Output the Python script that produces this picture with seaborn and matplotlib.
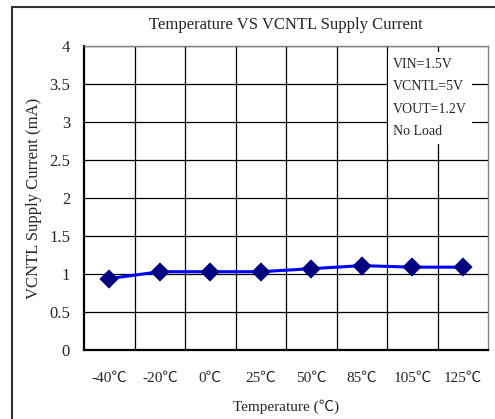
import matplotlib
matplotlib.use("Agg")
import matplotlib.pyplot as plt
import matplotlib.patches as patches
from matplotlib.ticker import FixedLocator
import seaborn as sns

temps = ["-40℃", "-20℃", "0℃", "25℃", "50℃", "85℃", "105℃", "125℃"]
current_ma = [0.94, 1.03, 1.03, 1.03, 1.07, 1.11, 1.09, 1.09]
conditions = ["VIN=1.5V", "VCNTL=5V", "VOUT=1.2V", "No Load"]

sns.set_style("white")
plt.rcParams["font.family"] = ["Liberation Serif", "Noto Sans CJK TC", "DejaVu Sans"]

fig = plt.figure(figsize=(4.95, 4.19), dpi=100)
ax = fig.add_axes([84 / 495, 69 / 419, 404 / 495, 304 / 419])

sns.pointplot(x=temps, y=current_ma, color="#0000FF", markers="D",
              errorbar=None, linewidth=2.2, markersize=8.5, ax=ax)
line = ax.lines[0]
line.set_markerfacecolor("#000080")
line.set_markeredgecolor("#000080")

ax.set_xlim(-0.5, len(temps) - 0.5)
ax.set_ylim(0, 4)
ax.set_yticks([0, 0.5, 1, 1.5, 2, 2.5, 3, 3.5, 4])
ax.set_yticklabels(["0", "0.5", "1", "1.5", "2", "2.5", "3", "3.5", "4"])
ax.xaxis.set_minor_locator(FixedLocator([i + 0.5 for i in range(len(temps) - 1)]))

ax.grid(True, which="major", axis="y", color="black", linewidth=0.9)
ax.grid(True, which="minor", axis="x", color="black", linewidth=0.9)
ax.set_axisbelow(True)

ax.tick_params(axis="x", which="major", length=0, pad=16, labelsize=11)
ax.tick_params(axis="x", which="minor", length=5, width=0.9, color="black", direction="out")
ax.tick_params(axis="y", length=0, pad=10, labelsize=12)

for side in ["left", "bottom"]:
    ax.spines[side].set_color("black")
    ax.spines[side].set_linewidth(1.6)
for side in ["top", "right"]:
    ax.spines[side].set_color("#808080")
    ax.spines[side].set_linewidth(1.0)

ax.set_xlabel("Temperature (℃)", fontsize=11, labelpad=10.5)
ax.set_ylabel("VCNTL Supply Current (mA)", fontsize=12, labelpad=5)
ax.set_title("Temperature VS VCNTL Supply Current", fontsize=12, pad=12)

ax.text(0.765, 0.962, "\n".join(conditions), transform=ax.transAxes,
        va="top", ha="left", fontsize=10, linespacing=1.95,
        bbox=dict(facecolor="white", edgecolor="none", pad=4), zorder=5)

frame = patches.Rectangle((12 / 495, -0.1), 1.2, (419 - 7.5) / 419 + 0.1,
                          transform=fig.transFigure, fill=False,
                          edgecolor="#333333", linewidth=1.5)
fig.add_artist(frame)

fig.savefig("out.png", dpi=100)
